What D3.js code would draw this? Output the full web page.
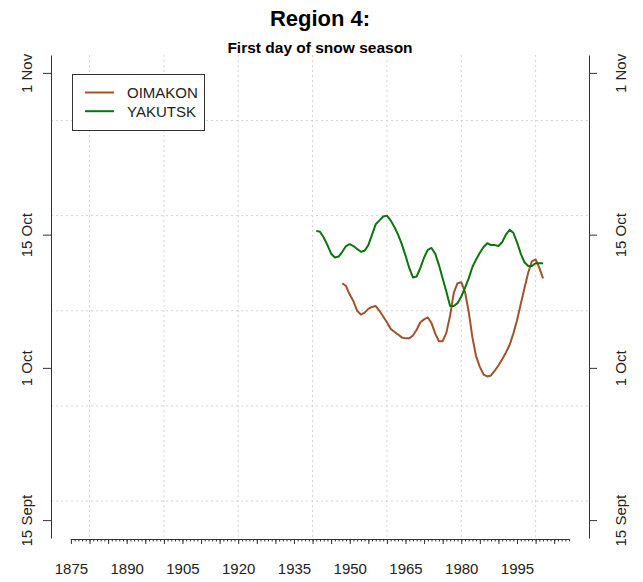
<!DOCTYPE html>
<html>
<head>
<meta charset="utf-8">
<script src="https://cdn.jsdelivr.net/npm/d3@7"></script>
<style>
  body { margin: 0; background: #fff; }
  svg { display: block; font-family: "Liberation Sans", Arial, sans-serif; }
  .grid line { stroke: #d3d3d3; stroke-dasharray: 2,3; }
  .axis path, .axis line { stroke: #333; }
  .axis text { fill: #222; font-size: 15px; }
</style>
</head>
<body>
<div id="chart"></div>
<script>
// data: first day of snow season, as day of year
var years = [1941, 1942, 1943, 1944, 1945, 1946, 1947, 1948, 1949, 1950,
             1951, 1952, 1953, 1954, 1955, 1956, 1957, 1958, 1959, 1960,
             1961, 1962, 1963, 1964, 1965, 1966, 1967, 1968, 1969, 1970,
             1971, 1972, 1973, 1974, 1975, 1976, 1977, 1978, 1979, 1980,
             1981, 1982, 1983, 1984, 1985, 1986, 1987, 1988, 1989, 1990,
             1991, 1992, 1993, 1994, 1995, 1996, 1997, 1998, 1999, 2000,
             2001, 2002];

var oimakon = [null, null, null, null, null, null, null, 282.9, 282.6, 281.7,
               281.0, 280.0, 279.6, 279.8, 280.2, 280.4, 280.5, 280.0, 279.4, 278.8,
               278.1, 277.8, 277.5, 277.2, 277.1, 277.1, 277.4, 278.0, 278.8, 279.1,
               279.3, 278.7, 277.6, 276.8, 276.8, 277.7, 279.5, 281.9, 282.9, 283.0,
               282.0, 279.9, 277.2, 275.2, 274.1, 273.3, 273.1, 273.2, 273.7, 274.25,
               274.9, 275.6, 276.4, 277.6, 279.0, 280.7, 282.4, 284.0, 285.2, 285.4,
               284.5, 283.4];

var yakutsk = [288.4, 288.3, 287.7, 286.9, 286.0, 285.6, 285.7, 286.2, 286.8, 287.0,
               286.8, 286.5, 286.2, 286.3, 286.9, 288.0, 289.1, 289.5, 289.9, 290.0,
               289.5, 288.8, 288.0, 287.0, 285.8, 284.5, 283.5, 283.6, 284.5, 285.6,
               286.4, 286.6, 286.0, 284.8, 283.4, 282.0, 280.5, 280.5, 280.8, 281.5,
               282.4, 283.4, 284.6, 285.4, 286.1, 286.7, 287.1, 286.9, 286.9, 286.8,
               287.2, 288.0, 288.5, 288.2, 287.2, 286.0, 285.1, 284.7, 284.7, 285.0,
               285.0, 285.0];

var seriesNames = ["OIMAKON", "YAKUTSK"];
var seriesColors = ["#a0522d", "#0b740b"];

var yTickValues = [258, 274, 288, 305];
var yTickLabels = ["15 Sept", "1 Oct", "15 Oct", "1 Nov"];
var xLabelYears = [1875, 1890, 1905, 1920, 1935, 1950, 1965, 1980, 1995];
var xRange = [1875, 2009];
var yRange = [258, 305];

var W = 643, H = 582;
var plot = {left: 51, right: 589, top: 55, bottom: 538};

// R style 4% padding around the limits
function pad(r) {
    var d = (r[1] - r[0]) * 0.04;
    return [r[0] - d, r[1] + d];
}

var x = d3.scaleLinear().domain(pad(xRange)).range([plot.left, plot.right]);
var y = d3.scaleLinear().domain(pad(yRange)).range([plot.bottom, plot.top]);

var svg = d3.select("#chart").append("svg")
    .attr("width", W)
    .attr("height", H);

// grid
var grid = svg.append("g").attr("class", "grid");
grid.selectAll(".vg")
    .data(d3.range(1880, 2001, 20))
    .enter().append("line")
    .attr("x1", function(d) { return x(d); })
    .attr("x2", function(d) { return x(d); })
    .attr("y1", plot.top)
    .attr("y2", plot.bottom);
grid.selectAll(".hg")
    .data(d3.range(260, 301, 10))
    .enter().append("line")
    .attr("x1", plot.left)
    .attr("x2", plot.right)
    .attr("y1", function(d) { return y(d); })
    .attr("y2", function(d) { return y(d); });

// x axis: a scale limited to the years drawn
var xa = x.copy().domain(xRange).range([x(xRange[0]), x(xRange[1])]);
var xAxisY = plot.bottom + 1;

svg.append("g")
    .attr("class", "axis")
    .attr("transform", "translate(0," + xAxisY + ")")
    .call(d3.axisBottom(xa).tickValues(d3.range(xRange[0], xRange[1] + 1, 1))
        .tickSize(2.5).tickSizeOuter(0).tickFormat(""));

svg.append("g")
    .attr("class", "axis")
    .attr("transform", "translate(0," + xAxisY + ")")
    .call(d3.axisBottom(xa).tickValues(d3.range(xRange[0], xRange[1], 5))
        .tickSize(5).tickSizeOuter(0).tickFormat(""))
    .select(".domain").remove();

svg.append("g")
    .attr("class", "axis")
    .attr("transform", "translate(0," + xAxisY + ")")
    .call(d3.axisBottom(xa).tickValues(xLabelYears)
        .tickSize(0).tickPadding(24).tickFormat(d3.format("d")))
    .call(function(g) { g.select(".domain").remove(); });

// y axes, left and right
function yLabel(d) { return yTickLabels[yTickValues.indexOf(d)]; }

svg.append("g")
    .attr("class", "axis")
    .attr("transform", "translate(" + plot.left + ",0)")
    .call(d3.axisLeft(y).tickValues(yTickValues).tickSize(8).tickSizeOuter(0).tickFormat(yLabel))
    .selectAll("text")
    .attr("x", 0).attr("dy", "0.35em")
    .attr("text-anchor", "middle")
    .attr("transform", "translate(-24,0) rotate(-90)");

svg.append("g")
    .attr("class", "axis")
    .attr("transform", "translate(" + plot.right + ",0)")
    .call(d3.axisRight(y).tickValues(yTickValues).tickSize(8).tickSizeOuter(0).tickFormat(yLabel))
    .selectAll("text")
    .attr("x", 0).attr("dy", "0.35em")
    .attr("text-anchor", "middle")
    .attr("transform", "translate(32,0) rotate(-90)");

// lines
var line = d3.line()
    .defined(function(d) { return d[1] != null; })
    .x(function(d) { return x(d[0]); })
    .y(function(d) { return y(d[1]); });

[oimakon, yakutsk].forEach(function(vals, i) {
    svg.append("path")
        .datum(years.map(function(yr, j) { return [yr, vals[j]]; }))
        .attr("fill", "none")
        .attr("stroke", seriesColors[i])
        .attr("stroke-width", 2)
        .attr("stroke-linejoin", "round")
        .attr("d", line);
});

// titles
svg.append("text")
    .attr("x", (plot.left + plot.right) / 2)
    .attr("y", 26)
    .attr("text-anchor", "middle")
    .style("font-size", "22px")
    .style("font-weight", "bold")
    .text("Region 4:");

svg.append("text")
    .attr("x", (plot.left + plot.right) / 2)
    .attr("y", 53)
    .attr("text-anchor", "middle")
    .style("font-size", "15.5px")
    .style("font-weight", "bold")
    .text("First day of snow season");

// legend
var legend = svg.append("g").attr("transform", "translate(72,74)");
legend.append("rect")
    .attr("x", 0.5).attr("y", 0.5)
    .attr("width", 132).attr("height", 56)
    .attr("fill", "#fff")
    .attr("stroke", "#333");

seriesNames.forEach(function(name, i) {
    var ly = 18.5 + i * 18.7;
    legend.append("line")
        .attr("x1", 13).attr("x2", 42)
        .attr("y1", ly).attr("y2", ly)
        .attr("stroke", seriesColors[i])
        .attr("stroke-width", 2);
    legend.append("text")
        .attr("x", 55)
        .attr("y", ly + 5.5)
        .style("font-size", "15px")
        .style("fill", "#222")
        .text(name);
});
</script>
</body>
</html>
